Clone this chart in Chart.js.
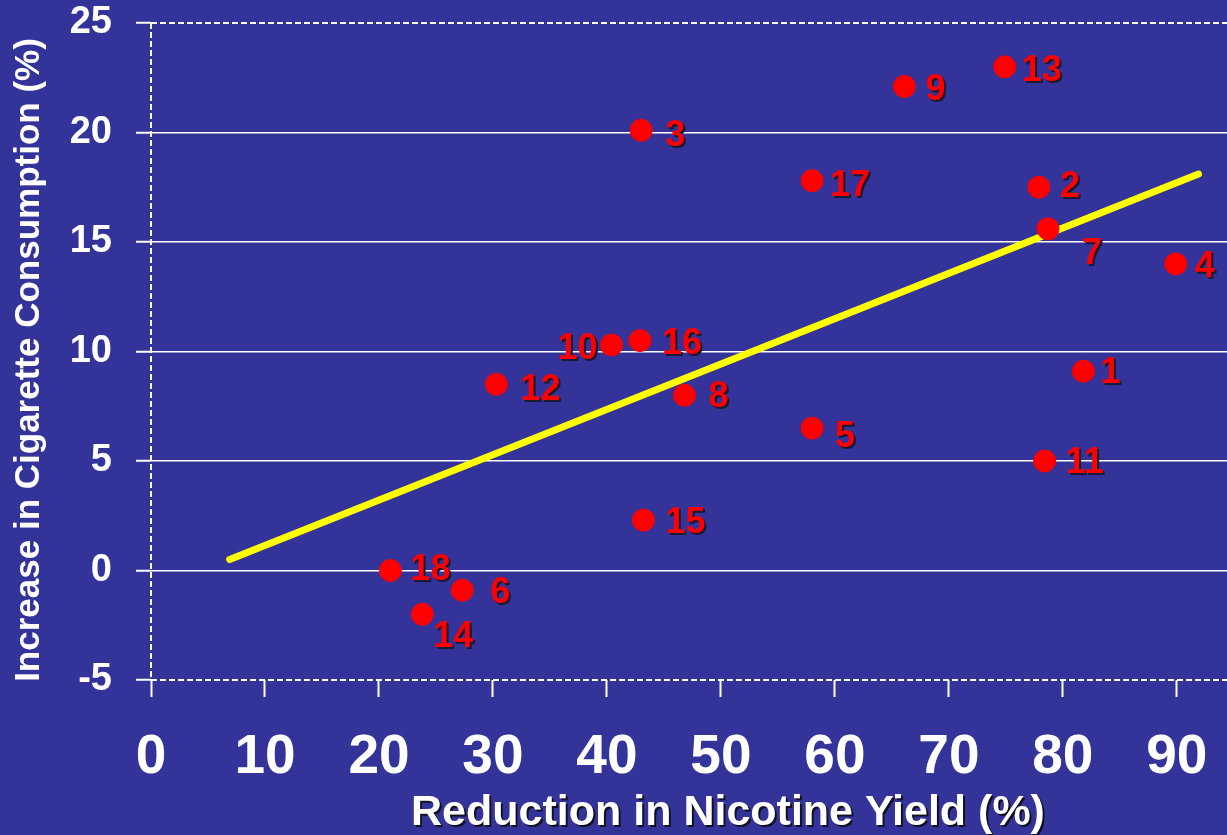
<!DOCTYPE html>
<html>
<head>
<meta charset="utf-8">
<script src="https://cdn.jsdelivr.net/npm/chart.js@4/dist/chart.umd.min.js"></script>
<style>
  html, body { margin: 0; padding: 0; background: #333399; overflow: hidden; }
  #wrap { width: 1227px; height: 835px; position: relative; }
  #c { display: block; }
</style>
</head>
<body>
<div id="wrap"><canvas id="c"></canvas></div>
<script>
// Study numbers and their measured values
const studyIds = [1, 2, 3, 4, 5, 6, 7, 8, 9, 10, 11, 12, 13, 14, 15, 16, 17, 18];
const nicotineReduction = [81.8, 77.9, 43.0, 89.9, 58.0, 27.3, 78.7, 46.8, 66.1, 40.4, 78.4, 30.3, 74.9, 23.8, 43.2, 42.9, 58.0, 21.0];
const consumptionIncrease = [9.1, 17.5, 20.1, 14.0, 6.5, -0.9, 15.6, 8.0, 22.1, 10.3, 5.0, 8.5, 23.0, -2.0, 2.3, 10.5, 17.8, 0.0];

// Fitted regression line end points
const fitX = [6.9, 91.9];
const fitY = [0.5, 18.1];

// Axis ticks
const xTickValues = [0, 10, 20, 30, 40, 50, 60, 70, 80, 90];
const yTickValues = [-5, 0, 5, 10, 15, 20, 25];

const xTitle = 'Reduction in Nicotine Yield (%)';
const yTitle = 'Increase in Cigarette Consumption (%)';

// Label placement relative to each point (dx, dy in px)
const labelOffsets = {
  1: [17, 2], 2: [21, 0], 3: [24, 6], 4: [19, 3], 5: [23, 9], 6: [28, 3],
  7: [34, 25], 8: [24, 2], 9: [21, 4], 10: [-54, 4], 11: [21, 2], 12: [24, 6],
  13: [17, 4], 14: [11, 23], 15: [22, 3], 16: [22, 4], 17: [18, 5], 18: [20, 0]
};

const FONT = '"Liberation Sans", Arial, sans-serif';
const BG = '#333399';

const points = studyIds.map((id, i) => ({ x: nicotineReduction[i], y: consumptionIncrease[i] }));
const fitLine = fitX.map((x, i) => ({ x, y: fitY[i] }));

const decorations = {
  id: 'decorations',
  beforeDraw(chart) {
    const ctx = chart.ctx;
    ctx.save();
    ctx.fillStyle = BG;
    ctx.fillRect(0, 0, chart.width, chart.height);
    ctx.restore();
  },
  afterDraw(chart) {
    const ctx = chart.ctx;
    const a = chart.chartArea;
    ctx.save();
    // dashed frame: top, left and bottom
    ctx.strokeStyle = '#ffffff';
    ctx.lineWidth = 2;
    ctx.setLineDash([6, 3]);
    ctx.beginPath();
    ctx.moveTo(a.left, a.top);
    ctx.lineTo(chart.width, a.top);
    ctx.moveTo(a.left, a.top);
    ctx.lineTo(a.left, a.bottom);
    ctx.moveTo(a.left, a.bottom);
    ctx.lineTo(chart.width, a.bottom);
    ctx.stroke();
    ctx.setLineDash([]);

    // point labels
    const meta = chart.getDatasetMeta(0);
    ctx.font = 'bold 36px ' + FONT;
    ctx.textBaseline = 'middle';
    ctx.textAlign = 'left';
    meta.data.forEach((el, i) => {
      const id = studyIds[i];
      const off = labelOffsets[id];
      const tx = el.x + off[0];
      const ty = el.y + off[1];
      ctx.fillStyle = '#1a1a33';
      ctx.fillText(String(id), tx + 2, ty + 2);
      ctx.fillStyle = '#ff0000';
      ctx.fillText(String(id), tx, ty);
    });

    // y axis title
    ctx.save();
    ctx.translate(29, 360);
    ctx.rotate(-Math.PI / 2);
    ctx.font = 'bold 35px ' + FONT;
    ctx.textAlign = 'center';
    ctx.textBaseline = 'middle';
    ctx.fillStyle = '#ffffff';
    ctx.fillText(yTitle, 0, 0);
    ctx.restore();

    // x axis title with drop shadow
    ctx.font = 'bold 43px ' + FONT;
    ctx.textAlign = 'center';
    ctx.textBaseline = 'middle';
    ctx.fillStyle = '#111122';
    ctx.fillText(xTitle, 730, 815);
    ctx.fillStyle = '#ffffff';
    ctx.fillText(xTitle, 728, 813);
    ctx.restore();
  }
};

new Chart(document.getElementById('c'), {
  type: 'scatter',
  data: {
    datasets: [
      {
        data: points,
        backgroundColor: '#ff0000',
        borderColor: '#ff0000',
        pointRadius: 11,
        pointHoverRadius: 11,
        order: 1
      },
      {
        type: 'line',
        data: fitLine,
        borderColor: '#ffff00',
        borderWidth: 7,
        borderCapStyle: 'round',
        pointRadius: 0,
        fill: false,
        order: 2
      }
    ]
  },
  options: {
    responsive: true,
    maintainAspectRatio: false,
    animation: false,
    events: [],
    layout: { autoPadding: false, padding: { top: 23, left: 0, right: 0, bottom: 0 } },
    plugins: { legend: { display: false }, tooltip: { enabled: false } },
    scales: {
      x: {
        type: 'linear',
        min: 0,
        max: 94.4,
        afterBuildTicks(scale) { scale.ticks = xTickValues.map(v => ({ value: v })); },
        afterFit(scale) {
          scale.height = 155;
          scale.paddingLeft = 0;
          scale.paddingRight = 0;
        },
        ticks: {
          color: '#ffffff',
          font: { family: FONT, size: 55, weight: 'bold' },
          padding: 28,
          maxRotation: 0,
          autoSkip: false
        },
        grid: {
          drawOnChartArea: false,
          drawTicks: true,
          tickLength: 17,
          tickColor: '#ffffff',
          tickWidth: 2
        },
        border: { display: false }
      },
      y: {
        type: 'linear',
        min: -5,
        max: 25,
        afterBuildTicks(scale) { scale.ticks = yTickValues.map(v => ({ value: v })); },
        afterFit(scale) {
          scale.width = 151;
          scale.paddingTop = 0;
          scale.paddingBottom = 0;
        },
        ticks: {
          color: '#ffffff',
          font: { family: FONT, size: 38, weight: 'bold' },
          padding: 24
        },
        grid: {
          color: ctx => (ctx.tick && (ctx.tick.value === 25 || ctx.tick.value === -5)) ? 'rgba(0,0,0,0)' : '#ffffff',
          lineWidth: 1.5,
          drawTicks: true,
          tickLength: 15,
          tickColor: '#ffffff',
          tickWidth: 2
        },
        border: { display: false }
      }
    }
  },
  plugins: [decorations]
});
</script>
</body>
</html>
